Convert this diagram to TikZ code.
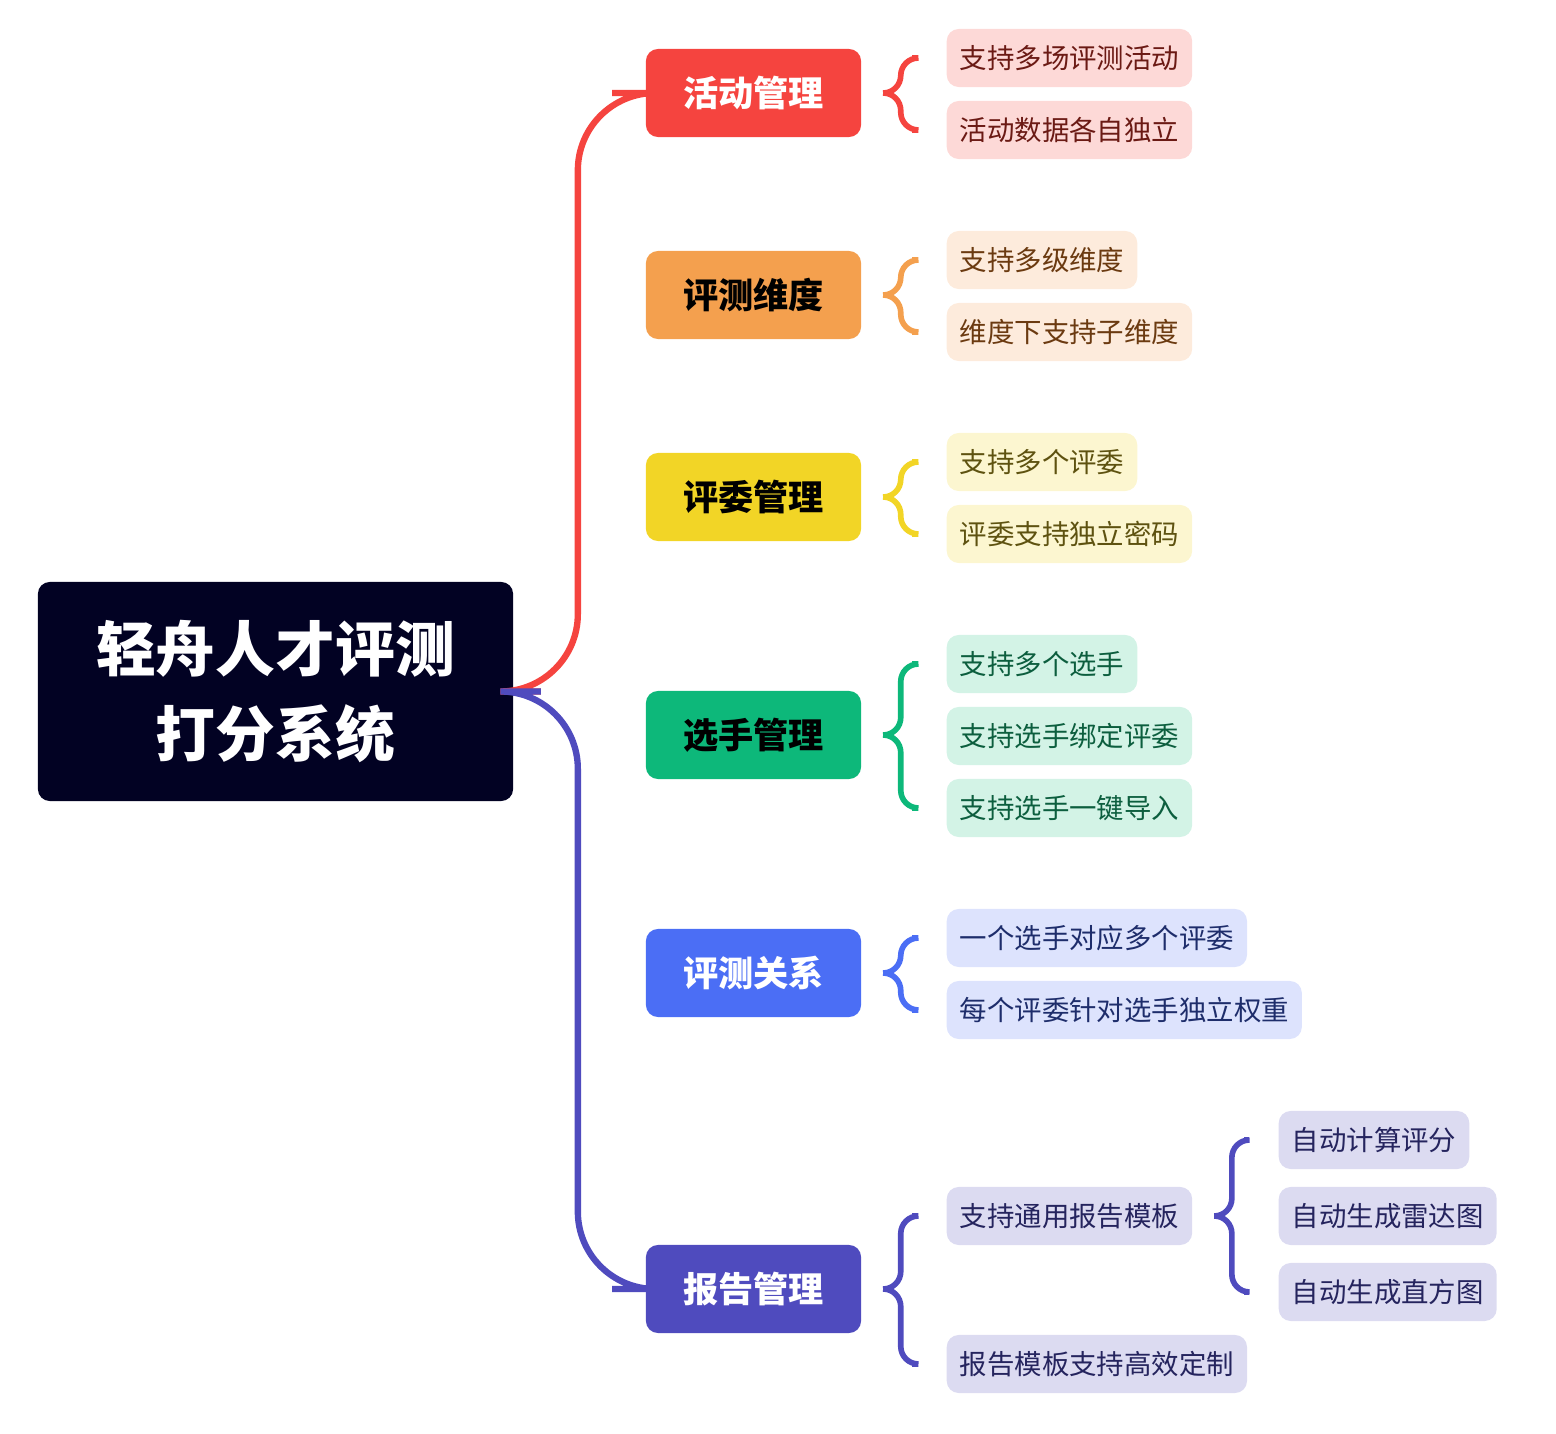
\documentclass[tikz,border=0pt]{standalone}
\usepackage{fontspec}
\setmainfont{Noto Sans CJK SC}
\usepackage{tikz}
\usetikzlibrary{positioning,calc}
\definecolor{rootc}{HTML}{020223}
\definecolor{redc}{HTML}{F5443F}\definecolor{redl}{HTML}{FDD9D7}\definecolor{redt}{HTML}{6B1A14}
\definecolor{orac}{HTML}{F4A04E}\definecolor{oral}{HTML}{FDEBDC}\definecolor{orat}{HTML}{6B3A10}
\definecolor{yelc}{HTML}{F2D526}\definecolor{yell}{HTML}{FCF6D0}\definecolor{yelt}{HTML}{5E5210}
\definecolor{grec}{HTML}{0DB87A}\definecolor{grel}{HTML}{D3F3E6}\definecolor{gret}{HTML}{0C5E3E}
\definecolor{bluc}{HTML}{4B6EF5}\definecolor{blul}{HTML}{DDE3FD}\definecolor{blut}{HTML}{1E2D6B}
\definecolor{indc}{HTML}{4F4BBE}\definecolor{indl}{HTML}{DCDBF1}\definecolor{indt}{HTML}{25245E}
\begin{document}
\begin{tikzpicture}[x=0.01cm,y=-0.01cm,
    root/.style={rectangle, rounded corners=0.12cm, fill=rootc, text=white,
      minimum width=4.75cm, minimum height=2.19cm, align=center,
      font=\fontsize{17}{24}\selectfont\bfseries},
    cat/.style={rectangle, rounded corners=0.12cm, fill=#1c,
      minimum width=2.15cm, minimum height=0.88cm, font=\fontsize{10}{12}\selectfont\bfseries},
    leaf/.style={rectangle, rounded corners=0.12cm, fill=#1l, text=#1t, anchor=west,
      minimum height=0.58cm, inner xsep=0.13cm, font=\fontsize{7.8}{9}\selectfont},
    brace/.style={draw=#1, line width=1.6pt, rounded corners=5pt},
    bigbrace/.style={draw=#1, line width=1.8pt, rounded corners=22pt}
    ]
    \useasboundingbox (0,0) rectangle (1556,1434);
    \node (root) [root] at (275.5,691.5) {轻舟人才评测\\打分系统};

    \node (c1) [cat=red, text=white] at (753.5,93) {活动管理};
    \node (c2) [cat=ora, text=black] at (753.5,295) {评测维度};
    \node (c3) [cat=yel, text=black] at (753.5,497) {评委管理};
    \node (c4) [cat=gre, text=black] at (753.5,735) {选手管理};
    \node (c5) [cat=blu, text=white] at (753.5,973) {评测关系};
    \node (c6) [cat=ind, text=white] at (753.5,1289) {报告管理};

    \node (l11) [leaf=red] at (946,58) {支持多场评测活动};
    \node (l12) [leaf=red] at (946,130) {活动数据各自独立};
    \node (l21) [leaf=ora] at (946,260) {支持多级维度};
    \node (l22) [leaf=ora] at (946,332) {维度下支持子维度};
    \node (l31) [leaf=yel] at (946,462) {支持多个评委};
    \node (l32) [leaf=yel] at (946,534) {评委支持独立密码};
    \node (l41) [leaf=gre] at (946,664) {支持多个选手};
    \node (l42) [leaf=gre] at (946,736) {支持选手绑定评委};
    \node (l43) [leaf=gre] at (946,808) {支持选手一键导入};
    \node (l51) [leaf=blu] at (946,938) {一个选手对应多个评委};
    \node (l52) [leaf=blu] at (946,1010) {每个评委针对选手独立权重};
    \node (l61) [leaf=ind] at (946,1216) {支持通用报告模板};
    \node (l62) [leaf=ind] at (946,1364) {报告模板支持高效定制};
    \node (s1) [leaf=ind] at (1278,1140) {自动计算评分};
    \node (s2) [leaf=ind] at (1278,1216) {自动生成雷达图};
    \node (s3) [leaf=ind] at (1278,1292) {自动生成直方图};

    % main brace
    \draw [bigbrace=redc] ($(root.east)+(27,0)$) -- ++(37,0) |- ($(c1.west)+(-33,0)$);
    \draw [bigbrace=indc] ($(root.east)+(27,0)$) -- ++(37,0) |- ($(c6.west)+(-33,0)$);

    % small braces
    \foreach \c/\t/\b/\col in {c1/l11/l12/redc, c2/l21/l22/orac, c3/l31/l32/yelc,
        c4/l41/l43/grec, c5/l51/l52/bluc, c6/l61/l62/indc, l61/s1/s3/indc} {
      \draw [brace=\col] ($(\c.east)+(27,0)$) -- ++(12,0) |- ($(\t.west)+(-34,0)$);
      \draw [brace=\col] ($(\c.east)+(27,0)$) -- ++(12,0) |- ($(\b.west)+(-34,0)$);
    }
  \end{tikzpicture}
\end{document}
